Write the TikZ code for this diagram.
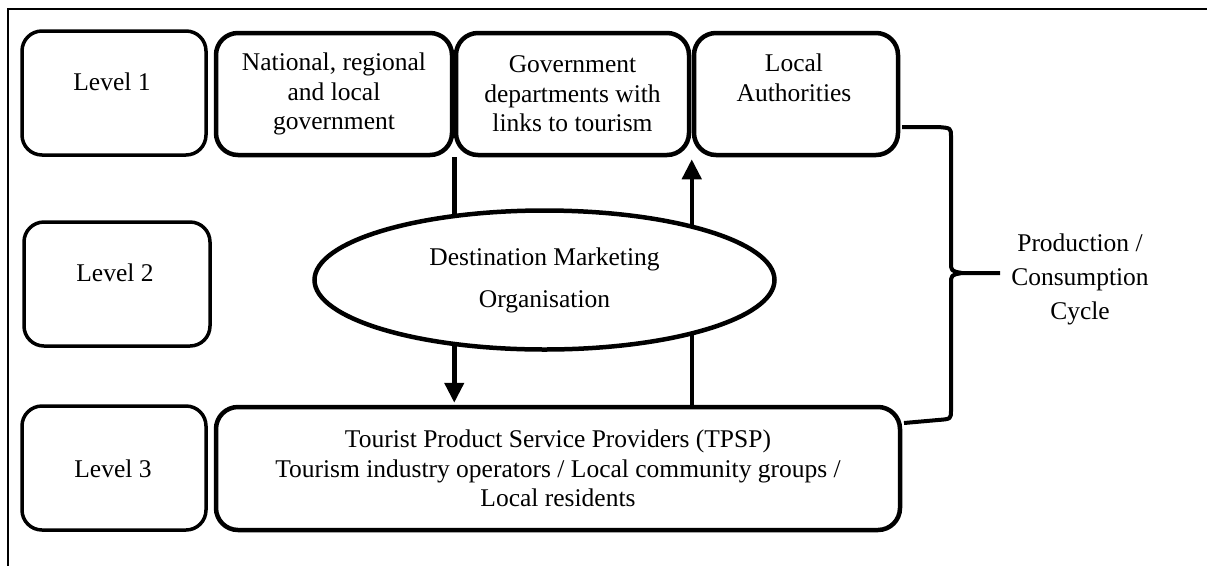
\documentclass[tikz,border=0pt]{standalone}
\usepackage{fontspec}
\setmainfont{Liberation Serif}
\usetikzlibrary{arrows.meta,shapes.geometric,calc}
\begin{document}
\begin{tikzpicture}[x=1pt,y=-1pt,
  txt/.style={font=\fontsize{25.5}{29.5}\selectfont,align=center,inner sep=0pt},
  lvlbox/.style={draw,line width=3.5pt,rounded corners=20pt,minimum width=184pt,minimum height=124pt,inner sep=0pt},
  bigbox/.style={draw,line width=4.5pt,rounded corners=22pt,minimum height=122pt,inner sep=0pt,align=center,font=\fontsize{25.5}{29.5}\selectfont},
  conn/.style={line width=4.5pt,shorten >=2pt,-{Triangle[length=20pt,width=19pt]}},
  bracestyle/.style={line width=4pt,line join=round},
  ]
\useasboundingbox (0,0) rectangle (1207,566);
% partial frame
\draw[line width=2pt] (1207,9) -- (8,9) -- (8,566);
% level boxes
\node[lvlbox] (l1) at (114,93) {};
\node[lvlbox,minimum width=186pt] (l2) at (117,284) {};
\node[lvlbox] (l3) at (114,468) {};
\node[txt] (l1t) at (112,82) {Level 1};
\node[txt] (l2t) at (115,273) {Level 2};
\node[txt] (l3t) at (113,469) {Level 3};
% level 1 boxes
\node[bigbox,minimum width=236pt] (nat) at (334,94) {National, regional\\and local\\government};
\node[bigbox,minimum width=233pt] (gov) at (572.5,94) {Government\\departments with\\links to tourism};
\node[bigbox,minimum width=204pt] (la) at (796,94) {};
\node[txt] (lat) at (794,78) {Local\\Authorities};
% level 3 box
\node[bigbox,minimum width=684pt,minimum height=123pt] (tpsp) at (558,468.5) {Tourist Product Service Providers (TPSP)\\Tourism industry operators / Local community groups /\\Local residents};
% arrows
\draw[conn] (nat.south east) -- (nat.south east |- tpsp.north);
\draw[conn] (la.south west |- tpsp.north) -- (la.south west);
% ellipse
\node[ellipse,draw,fill=white,line width=4.5pt,minimum width=460pt,minimum height=139pt,inner sep=0pt,align=center,font=\fontsize{25.5}{42}\selectfont] (dmo) at (544.5,280) {Destination Marketing\\Organisation};
% brace
\coordinate (bt) at (902,127);
\coordinate (bb) at (904,423);
\coordinate (btip) at (1000,273);
\draw[bracestyle] (bt) -- (938,127) .. controls (951,128) .. (951,137) -- (951,262)
  .. controls (951,271) .. (962,273) -- (btip);
\draw[bracestyle] (962,273) .. controls (951,275) .. (951,284) -- (951,410)
  .. controls (951,419) .. (938,420) -- (bb);
\node[txt,font=\fontsize{25.5}{34}\selectfont] (cyc) at (1080,279) {Production /\\Consumption\\Cycle};
\end{tikzpicture}
\end{document}
